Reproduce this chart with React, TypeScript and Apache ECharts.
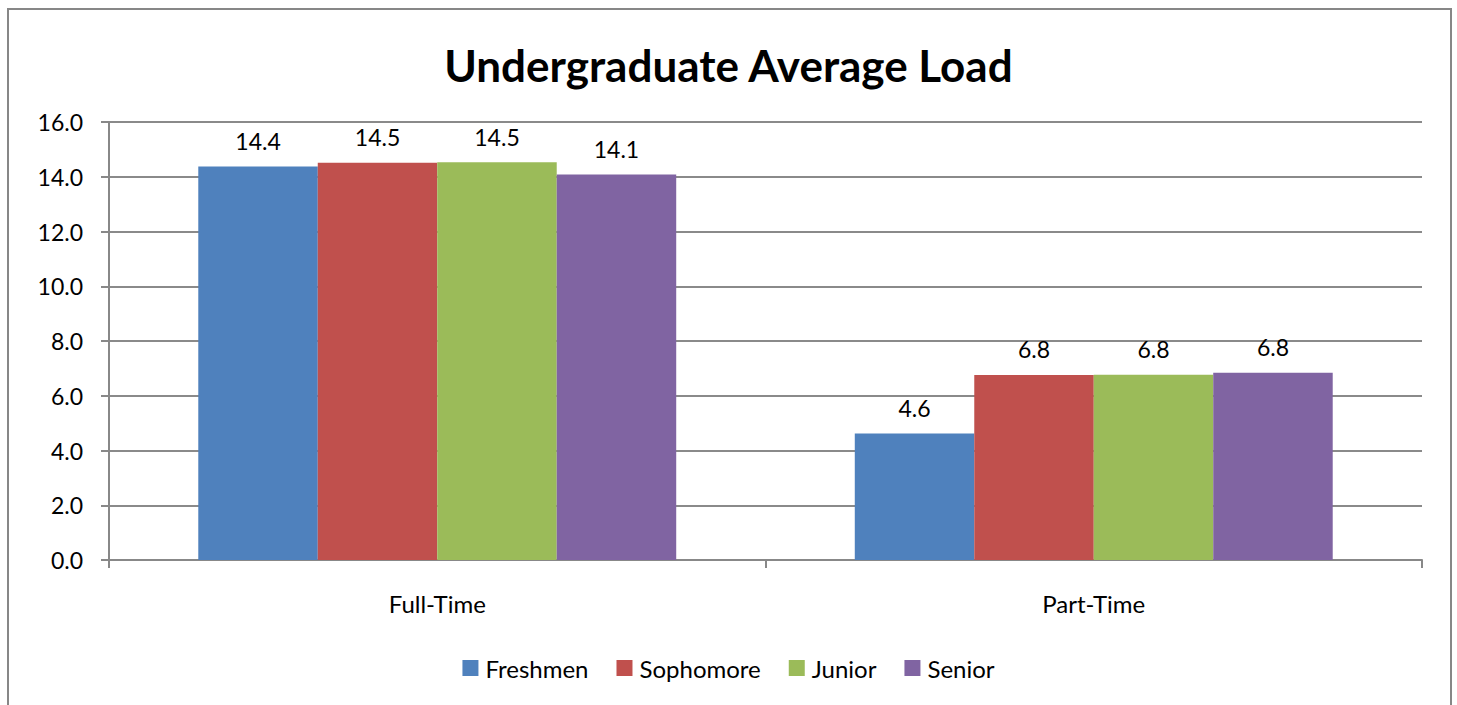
import React, { useEffect, useRef } from "react";
import * as echarts from "echarts";

const categories = ["Full-Time", "Part-Time"];
const seriesNames = ["Freshmen", "Sophomore", "Junior", "Senior"];
const freshmen = [14.37, 4.62];
const sophomore = [14.51, 6.76];
const junior = [14.53, 6.77];
const senior = [14.08, 6.84];
const seriesValues = [freshmen, sophomore, junior, senior];
const colors = ["#4F81BD", "#C0504D", "#9BBB59", "#8064A2"];
const yTicks = { min: 0, max: 16, interval: 2 };

const FONT = "Lato, 'Open Sans', sans-serif";

export default function App() {
  const ref = useRef<HTMLDivElement>(null);
  useEffect(() => {
    if (!ref.current) return;
    const chart = echarts.init(ref.current, undefined, { renderer: "svg" });
    chart.setOption({
      animation: false,
      backgroundColor: "#ffffff",
      title: {
        text: "Undergraduate Average Load",
        left: "center",
        top: 38,
        textStyle: { fontFamily: FONT, fontSize: 44, fontWeight: "bold", color: "#000" },
      },
      legend: {
        data: seriesNames,
        bottom: 20,
        left: "center",
        itemWidth: 16,
        itemHeight: 16,
        itemGap: 28,
        icon: "rect",
        textStyle: { fontFamily: FONT, fontSize: 24, color: "#000", padding: [0, 0, 0, 2] },
      },
      graphic: [
        {
          type: "rect",
          shape: { x: 8, y: 9, width: 1443, height: 720 },
          style: { fill: "none", stroke: "#878787", lineWidth: 2 },
          silent: true,
        },
      ],
      grid: { left: 109, right: 35, top: 122, bottom: 145 },
      xAxis: {
        type: "category",
        data: categories,
        axisLine: { lineStyle: { color: "#888", width: 2 } },
        axisTick: { show: true, length: 8, lineStyle: { color: "#888", width: 2 } },
        axisLabel: { fontFamily: FONT, fontSize: 24, color: "#000", margin: 31 },
      },
      yAxis: {
        type: "value",
        min: yTicks.min,
        max: yTicks.max,
        interval: yTicks.interval,
        axisLine: { show: true, lineStyle: { color: "#888", width: 2 } },
        axisTick: { show: true, length: 8, lineStyle: { color: "#888", width: 2 } },
        splitLine: { lineStyle: { color: "#8a8a8a", width: 2 } },
        axisLabel: {
          fontFamily: FONT,
          fontSize: 23,
          color: "#000",
          margin: 26,
          formatter: (v: number) => v.toFixed(1),
        },
      },
      series: seriesNames.map((name, i) => ({
        name,
        type: "bar",
        data: seriesValues[i],
        barGap: "0%",
        barCategoryGap: "27.2%",
        itemStyle: { color: colors[i] },
        label: {
          show: true,
          position: "top",
          distance: 14,
          fontFamily: FONT,
          fontSize: 23,
          color: "#000",
          formatter: (p: any) => Number(p.value).toFixed(1),
        },
      })),
    });
    return () => chart.dispose();
  }, []);
  return (
    <div
      ref={ref}
      style={{ position: "absolute", left: 0, top: 0, width: 1457, height: 705 }}
    />
  );
}
